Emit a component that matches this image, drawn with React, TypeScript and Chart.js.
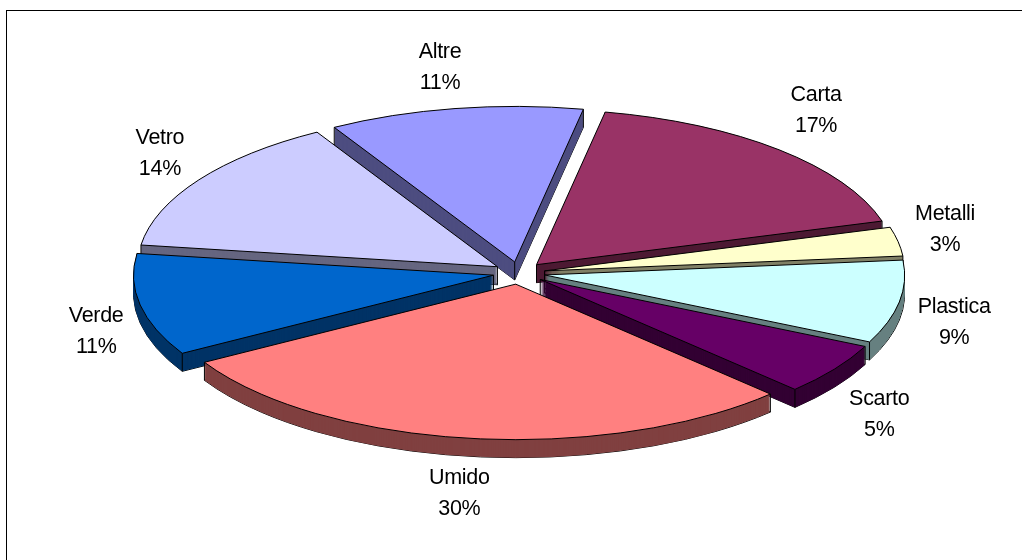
import React, { useEffect, useRef } from "react";
import { Chart, registerables } from "chart.js";

Chart.register(...registerables);

const categories = ["Carta", "Metalli", "Plastica", "Scarto", "Umido", "Verde", "Vetro", "Altre"];
const values = [17.4, 3.0, 8.6, 5.4, 29.1, 10.6, 14.4, 11.4];
const percentLabels = ["17%", "3%", "9%", "5%", "30%", "11%", "14%", "11%"];
const topColors = ["#993366", "#FFFFCC", "#CCFFFF", "#660066", "#FF8080", "#0066CC", "#CCCCFF", "#9999FF"];
const sideColors = ["#4D1A33", "#808066", "#668080", "#330033", "#804040", "#003366", "#666680", "#4D4D80"];
const labelNudgeX = [37, 47, 55, 45, -10, -44, -39, -15];
const labelNudgeY = [-39, -12, 21, 45, 55, 27, -26, -41];

const SQUASH = 0.432;
const DEPTH = 18;
const EXPLODE = 26;
const LINE_GAP = 31;

function slicePath(ctx: CanvasRenderingContext2D, arc: any, dy: number) {
  const mid = (arc.startAngle + arc.endAngle) / 2;
  const x = arc.x + Math.cos(mid) * EXPLODE;
  const y = arc.y + Math.sin(mid) * EXPLODE * SQUASH + dy;
  ctx.beginPath();
  ctx.moveTo(x, y);
  ctx.ellipse(x, y, arc.outerRadius, arc.outerRadius * SQUASH, 0, arc.startAngle, arc.endAngle);
  ctx.closePath();
}

function fillFace(ctx: CanvasRenderingContext2D, arc: any, dy: number, color: string) {
  const mid = (arc.startAngle + arc.endAngle) / 2;
  const saved = arc.options;
  arc.options = { ...saved, backgroundColor: color, borderWidth: 0 };
  ctx.save();
  ctx.translate(arc.x + Math.cos(mid) * EXPLODE, arc.y + Math.sin(mid) * EXPLODE * SQUASH + dy);
  ctx.scale(1, SQUASH);
  ctx.translate(-arc.x, -arc.y);
  arc.draw(ctx);
  ctx.restore();
  arc.options = saved;
}

const tiltedPie = {
  id: "tiltedPie",
  beforeDraw(chart: any) {
    const { ctx } = chart;
    ctx.save();
    ctx.strokeStyle = "#000";
    ctx.lineWidth = 1;
    ctx.strokeRect(6.5, 10.5, 1200, 800);
    ctx.restore();
  },
  beforeDatasetsDraw(chart: any) {
    const { ctx } = chart;
    const meta = chart.getDatasetMeta(0);
    const order = meta.data
      .map((arc: any, i: number) => ({ arc, i }))
      .sort(
        (a: any, b: any) =>
          Math.sin((a.arc.startAngle + a.arc.endAngle) / 2) - Math.sin((b.arc.startAngle + b.arc.endAngle) / 2)
      );
    ctx.save();
    ctx.strokeStyle = "#000";
    ctx.lineWidth = 1;
    ctx.lineJoin = "round";
    order.forEach(({ arc, i }: any) => {
      const mid = (arc.startAngle + arc.endAngle) / 2;
      slicePath(ctx, arc, DEPTH);
      ctx.stroke();
      for (let d = DEPTH; d > 0; d -= 1) fillFace(ctx, arc, d, sideColors[i]);
      const ax = arc.x + Math.cos(mid) * EXPLODE;
      const ay = arc.y + Math.sin(mid) * EXPLODE * SQUASH;
      const corners = [
        [ax, ay],
        [ax + Math.cos(arc.startAngle) * arc.outerRadius, ay + Math.sin(arc.startAngle) * arc.outerRadius * SQUASH],
        [ax + Math.cos(arc.endAngle) * arc.outerRadius, ay + Math.sin(arc.endAngle) * arc.outerRadius * SQUASH],
      ];
      corners.forEach(([x, y]) => {
        ctx.beginPath();
        ctx.moveTo(x, y);
        ctx.lineTo(x, y + DEPTH);
        ctx.stroke();
      });
      fillFace(ctx, arc, 0, topColors[i]);
      slicePath(ctx, arc, 0);
      ctx.stroke();
    });
    ctx.restore();
    return false;
  },
  afterDraw(chart: any) {
    const { ctx } = chart;
    const meta = chart.getDatasetMeta(0);
    ctx.save();
    ctx.fillStyle = "#000";
    ctx.font = '21.5px "Liberation Sans"';
    ctx.textAlign = "center";
    ctx.textBaseline = "middle";
    (ctx as any).letterSpacing = "-0.3px";
    meta.data.forEach((arc: any, i: number) => {
      const mid = (arc.startAngle + arc.endAngle) / 2;
      const r = arc.outerRadius + EXPLODE;
      const x = arc.x + Math.cos(mid) * r + labelNudgeX[i];
      const y = arc.y + Math.sin(mid) * r * SQUASH + labelNudgeY[i];
      ctx.fillText(categories[i], x, y - LINE_GAP / 2);
      ctx.fillText(percentLabels[i], x, y + LINE_GAP / 2);
    });
    ctx.restore();
  },
};

export default function App() {
  const ref = useRef<HTMLCanvasElement>(null);
  useEffect(() => {
    const chart = new Chart(ref.current!, {
      type: "pie",
      data: {
        labels: categories,
        datasets: [{ data: values, backgroundColor: topColors, borderWidth: 0 }],
      },
      options: {
        animation: false,
        responsive: false,
        rotation: 11,
        radius: 360,
        layout: { padding: { left: 16, right: 0, top: 0, bottom: 14 } },
        plugins: { legend: { display: false }, tooltip: { enabled: false } },
      },
      plugins: [tiltedPie],
    } as any);
    return () => chart.destroy();
  }, []);
  return (
    <canvas
      ref={ref}
      width={1022}
      height={560}
      style={{ position: "fixed", left: 0, top: 0, width: 1022, height: 560, display: "block" }}
    />
  );
}
